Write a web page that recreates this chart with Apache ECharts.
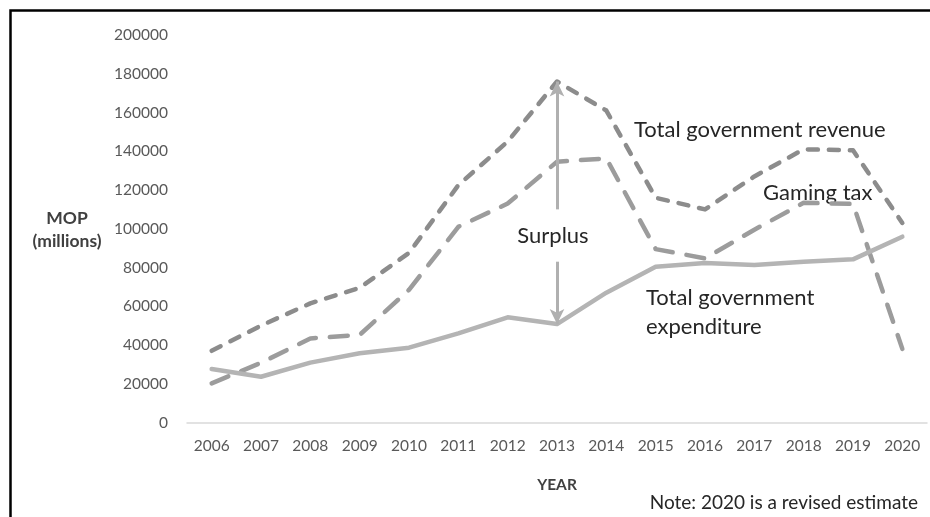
<!DOCTYPE html>
<html>
<head>
<meta charset="utf-8">
<script src="https://cdn.jsdelivr.net/npm/echarts@6/dist/echarts.min.js"></script>
<style>html,body{margin:0;padding:0;background:#fff}#c{width:930px;height:517px}</style>
</head>
<body>
<div id="c"></div>
<script>
const years = ['2006','2007','2008','2009','2010','2011','2012','2013','2014','2015','2016','2017','2018','2019','2020'];
const revenue = [37000, 50000, 61500, 69500, 87500, 122500, 145000, 176000, 161000, 116000, 110000, 127000, 141000, 140500, 103000];
const gamingTax = [20200, 30800, 43400, 45200, 68500, 101000, 113000, 134600, 136300, 89500, 84700, 99500, 113400, 112800, 38000];
const expenditure = [27600, 23600, 30900, 35700, 38600, 46000, 54300, 50800, 67000, 80400, 82300, 81300, 83000, 84200, 95900];
const yTicks = {min: 0, max: 200000, interval: 20000};
const surplusYear = '2013';
const surplusGapTop = 110000, surplusGapBottom = 83000;

const chart = echarts.init(document.getElementById('c'));
const FONT = 'Lato';
const idx = years.indexOf(surplusYear);
chart.setOption({
  animation: false,
  grid: {left: 187, right: 3, top: 35, bottom: 94.5, containLabel: false},
  xAxis: {
    type: 'category', data: years, boundaryGap: true,
    axisLine: {lineStyle: {color: '#d9d9d9', width: 1.5}},
    axisTick: {show: false},
    axisLabel: {color: '#595959', fontFamily: FONT, fontSize: 15.5, margin: 15},
    name: 'YEAR', nameLocation: 'middle', nameGap: 54,
    nameTextStyle: {fontFamily: FONT, fontWeight: 'bold', fontSize: 15.5, color: '#404040'}
  },
  yAxis: {
    type: 'value', min: yTicks.min, max: yTicks.max, interval: yTicks.interval,
    axisLine: {show: false}, axisTick: {show: false}, splitLine: {show: false},
    axisLabel: {color: '#595959', fontFamily: FONT, fontSize: 15.5, margin: 19, formatter: v => String(v)}
  },
  series: [
    {
      name: 'Total government expenditure', type: 'line', data: expenditure, symbol: 'none',
      lineStyle: {color: '#b4b4b4', width: 4.5, cap: 'round', join: 'round'}, z: 3,
      markLine: {
        silent: true, symbol: ['none', 'arrow'], symbolSize: [11, 15],
        label: {show: false},
        lineStyle: {color: '#b0b0b0', width: 3, type: 'solid'},
        data: [
          [{coord: [surplusYear, surplusGapTop]}, {coord: [surplusYear, revenue[idx]]}],
          [{coord: [surplusYear, surplusGapBottom]}, {coord: [surplusYear, expenditure[idx]]}]
        ]
      }
    },
    {
      name: 'Gaming tax', type: 'line', data: gamingTax, symbol: 'none',
      lineStyle: {color: '#9c9c9c', width: 4.5, type: [18, 14], cap: 'round', join: 'round'}, z: 2
    },
    {
      name: 'Total government revenue', type: 'line', data: revenue, symbol: 'none',
      lineStyle: {color: '#8c8c8c', width: 4.5, type: [10, 11], cap: 'round', join: 'round'}, z: 2
    }
  ],
  graphic: [
    {type: 'rect', shape: {x: 10.5, y: 10.5, width: 940, height: 530}, style: {fill: 'none', stroke: '#000', lineWidth: 2.5}, silent: true},
    {type: 'text', x: 67, y: 230, style: {text: 'MOP\n(millions)', fontFamily: FONT, fontWeight: 'bold', fontSize: 17.5, lineHeight: 23, fill: '#404040', align: 'center', verticalAlign: 'middle'}},
    {type: 'text', x: 634, y: 130, style: {text: 'Total government revenue', fontFamily: FONT, fontSize: 22, fill: '#262626', align: 'left', verticalAlign: 'middle'}},
    {type: 'text', x: 763, y: 193, style: {text: 'Gaming tax', fontFamily: FONT, fontSize: 22, fill: '#262626', align: 'left', verticalAlign: 'middle'}},
    {type: 'text', x: 553, y: 236, style: {text: 'Surplus', fontFamily: FONT, fontSize: 22, fill: '#262626', align: 'center', verticalAlign: 'middle'}},
    {type: 'text', x: 646, y: 312, style: {text: 'Total government\nexpenditure', fontFamily: FONT, fontSize: 22, lineHeight: 29, fill: '#262626', align: 'left', verticalAlign: 'middle'}},
    {type: 'text', x: 918, y: 503, style: {text: 'Note: 2020 is a revised estimate', fontFamily: FONT, fontSize: 19, fill: '#262626', align: 'right', verticalAlign: 'middle'}}
  ]
});
</script>
</body>
</html>
